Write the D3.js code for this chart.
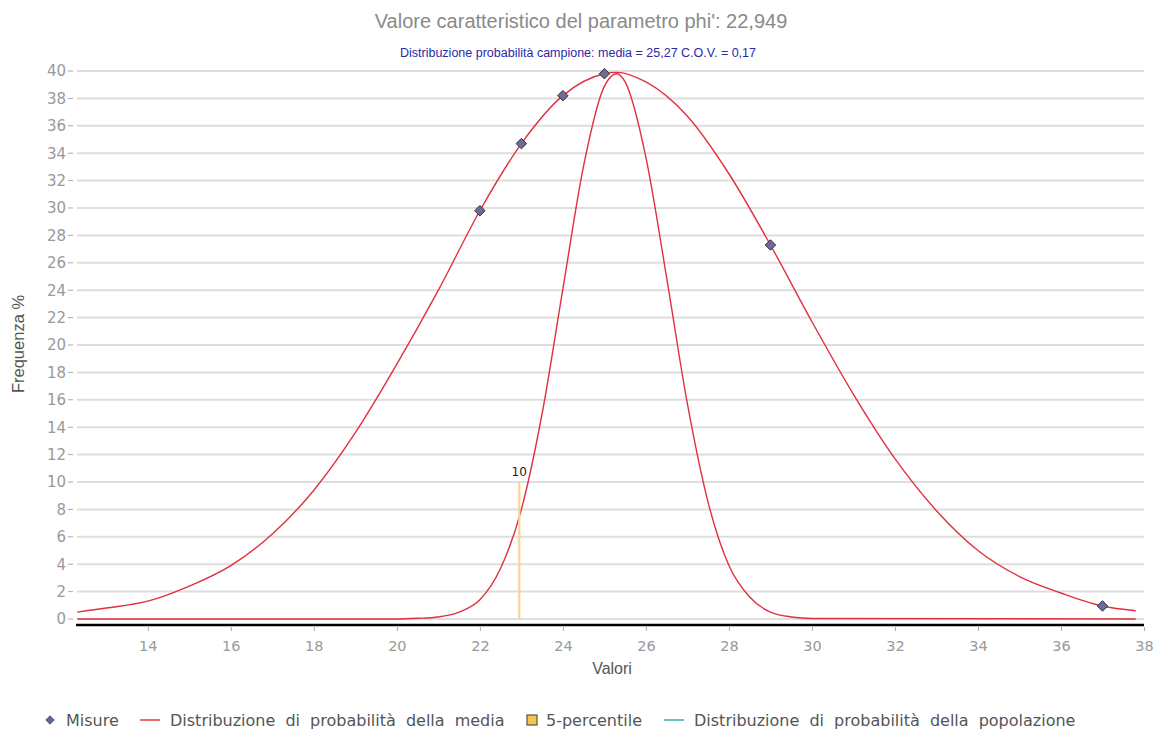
<!DOCTYPE html>
<html>
<head>
<meta charset="utf-8">
<script src="https://cdn.jsdelivr.net/npm/d3@7"></script>
<style>
  html, body { margin: 0; padding: 0; background: #fff; }
  svg { display: block; }
</style>
</head>
<body>
<svg id="chart" width="1157" height="732"></svg>
<script>
// Measured samples
const measureX = [22, 23, 24, 25, 29, 37];
const measureY = [29.8, 34.7, 38.2, 39.8, 27.3, 0.95];

// Population distribution (wide curve)
const popX = [12.3, 13, 14, 15, 16, 17, 18, 19, 20, 21, 22, 23, 24, 25, 25.3, 26, 27, 28, 29, 30, 31, 32, 33, 34, 35, 36, 37, 37.8];
const popY = [0.5, 0.8, 1.3, 2.4, 3.9, 6.2, 9.4, 13.6, 18.6, 24.0, 29.8, 34.7, 38.2, 39.8, 39.9, 39.2, 36.7, 32.5, 27.3, 21.7, 16.4, 11.7, 7.9, 5.0, 3.1, 1.9, 0.95, 0.6];

// Distribution of the mean (narrow curve)
const meanX = [12.3, 20, 20.5, 21, 21.5, 22, 22.5, 23, 23.5, 24, 24.5, 25, 25.3, 25.5, 26, 26.5, 27, 27.5, 28, 28.5, 29, 29.5, 30, 37.8];
const meanY = [0, 0, 0.05, 0.15, 0.5, 1.4, 3.7, 8.0, 15.0, 24.1, 33.1, 38.9, 39.8, 39.2, 33.7, 24.9, 15.7, 8.5, 3.9, 1.6, 0.5, 0.15, 0.04, 0];

// 5th percentile marker
const pctX = [22.949];
const pctY = [10];
const pctLabel = ["10"];

const xTicks = [14, 16, 18, 20, 22, 24, 26, 28, 30, 32, 34, 36, 38];
const yTicks = d3.range(0, 41, 2);

const titleText = "Valore caratteristico del parametro phi': 22,949";
const subtitleText = "Distribuzione probabilità campione: media = 25,27 C.O.V. = 0,17";
const xTitle = "Valori";
const yTitle = "Frequenza %";
const legendItems = [
  { label: "Misure", kind: "diamond" },
  { label: "Distribuzione di probabilità della media", kind: "line", color: "#f06a6a" },
  { label: "5-percentile", kind: "square" },
  { label: "Distribuzione di probabilità della popolazione", kind: "line", color: "#66c2c0" }
];

const svg = d3.select("#chart");
const x = d3.scaleLinear().domain([12.27, 38]).range([76, 1144]);
const y = d3.scaleLinear().domain([0, 40]).range([619, 71]);

const gray = "#999";
const redLine = "#e0303f";

// Titles
svg.append("text").attr("x", 581).attr("y", 28).attr("text-anchor", "middle")
  .attr("font-family", "Liberation Sans, Arial, sans-serif").attr("font-size", 20)
  .attr("fill", "#8a8a8a").text(titleText);
svg.append("text").attr("x", 578).attr("y", 57).attr("text-anchor", "middle")
  .attr("font-family", "Liberation Sans, Arial, sans-serif").attr("font-size", 12.5)
  .attr("fill", "#2a2aa8").text(subtitleText);

// Horizontal grid
svg.append("g").selectAll("line").data(yTicks).join("line")
  .attr("x1", 77).attr("x2", 1144)
  .attr("y1", d => y(d)).attr("y2", d => y(d))
  .attr("stroke", "#dedede").attr("stroke-width", 2);

// Y axis labels with dash ticks
const yAxis = svg.append("g");
yAxis.selectAll("text").data(yTicks).join("text")
  .attr("x", 66).attr("y", d => y(d)).attr("dy", "0.36em")
  .attr("text-anchor", "end")
  .attr("font-family", "DejaVu Sans, Verdana, sans-serif").attr("font-size", 15)
  .attr("fill", gray).text(d => d);
yAxis.selectAll("line").data(yTicks).join("line")
  .attr("x1", 68).attr("x2", 73).attr("y1", d => y(d)).attr("y2", d => y(d))
  .attr("stroke", "#aaa").attr("stroke-width", 1);

// X axis
const xg = svg.append("g").attr("transform", "translate(0,625)");
const xAxis = d3.axisBottom(x).tickValues(xTicks).tickSize(6).tickPadding(10).tickFormat(d3.format("d"));
xg.call(xAxis);
xg.select(".domain").remove();
xg.selectAll(".tick line").attr("stroke", "#aaa").attr("y1", 2);
xg.selectAll(".tick text").attr("fill", gray)
  .attr("font-family", "DejaVu Sans, Verdana, sans-serif").attr("font-size", 14.5);
svg.append("line").attr("x1", 76).attr("x2", 1144).attr("y1", 625).attr("y2", 625)
  .attr("stroke", "#000").attr("stroke-width", 2.5);

// Axis titles
svg.append("text").attr("x", 612).attr("y", 674).attr("text-anchor", "middle")
  .attr("font-family", "Liberation Sans, Arial, sans-serif").attr("font-size", 16)
  .attr("fill", "#555").text(xTitle);
svg.append("text").attr("transform", "translate(24,344) rotate(-90)").attr("text-anchor", "middle")
  .attr("font-family", "Liberation Sans, Arial, sans-serif").attr("font-size", 16.5)
  .attr("fill", "#555").text(yTitle);

// Curves
const line = d3.line().x(d => x(d[0])).y(d => y(d[1])).curve(d3.curveMonotoneX);
svg.append("path").datum(d3.zip(meanX, meanY)).attr("d", line)
  .attr("fill", "none").attr("stroke", redLine).attr("stroke-width", 1.4);
svg.append("path").datum(d3.zip(popX, popY)).attr("d", line)
  .attr("fill", "none").attr("stroke", redLine).attr("stroke-width", 1.4);

// 5-percentile bar
svg.append("g").selectAll("line").data(d3.zip(pctX, pctY)).join("line")
  .attr("x1", d => x(d[0])).attr("x2", d => x(d[0]))
  .attr("y1", y(0)).attr("y2", d => y(d[1]))
  .attr("stroke", "#f8d49a").attr("stroke-width", 2.2);
svg.append("g").selectAll("text").data(d3.zip(pctX, pctY, pctLabel)).join("text")
  .attr("x", d => x(d[0])).attr("y", d => y(d[1]) - 6)
  .attr("text-anchor", "middle")
  .attr("font-family", "DejaVu Sans, Verdana, sans-serif").attr("font-size", 12)
  .attr("fill", "#222").text(d => d[2]);

// Measurement markers
const diamond = d3.symbol().type(d3.symbolDiamond2).size(70);
svg.append("g").selectAll("path").data(d3.zip(measureX, measureY)).join("path")
  .attr("transform", d => `translate(${x(d[0])},${y(d[1])})`)
  .attr("d", diamond)
  .attr("fill", "#6b6b9c").attr("stroke", "#333").attr("stroke-width", 1);

// Legend
const lg = svg.append("g").attr("font-family", "DejaVu Sans, Verdana, sans-serif")
  .attr("font-size", 16).attr("word-spacing", 5).attr("fill", "#555");
const legendPos = [
  { sym: 50, text: 66 },
  { sym: 150, text: 170 },
  { sym: 532, text: 546 },
  { sym: 674, text: 694 }
];
legendItems.forEach((it, i) => {
  const p = legendPos[i];
  const ly = 720;
  if (it.kind === "diamond") {
    lg.append("path").attr("transform", `translate(${p.sym},${ly})`)
      .attr("d", d3.symbol().type(d3.symbolDiamond2).size(45))
      .attr("fill", "#5a6a9c").attr("stroke", "#445").attr("stroke-width", 0.8);
  } else if (it.kind === "line") {
    lg.append("line").attr("x1", p.sym - 10).attr("x2", p.sym + 10)
      .attr("y1", ly).attr("y2", ly).attr("stroke", it.color).attr("stroke-width", 2);
  } else {
    lg.append("rect").attr("x", p.sym - 5).attr("y", ly - 5).attr("width", 10).attr("height", 10)
      .attr("fill", "#f5c452").attr("stroke", "#554").attr("stroke-width", 1.2);
  }
  lg.append("text").attr("x", p.text).attr("y", ly).attr("dy", "0.36em").text(it.label);
});
</script>
</body>
</html>
